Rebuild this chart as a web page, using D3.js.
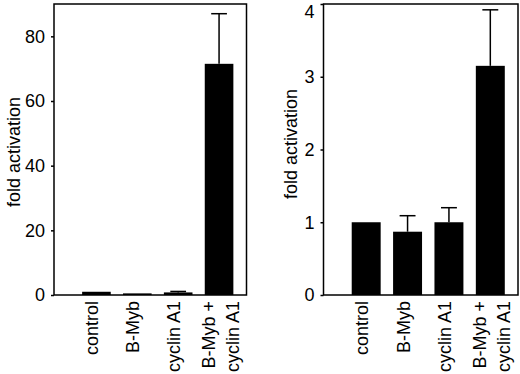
<!DOCTYPE html>
<html>
<head>
<meta charset="utf-8">
<script src="https://cdn.jsdelivr.net/npm/d3@7"></script>
<style>
  html, body { margin: 0; padding: 0; background: #fff; }
  svg { display: block; }
</style>
</head>
<body>
<div id="chart"></div>
<script>
// categories shared by both panels
const categories = ["control", "B-Myb", "cyclin A1", "B-Myb + cyclin A1"];
const categoryLines = [["control"], ["B-Myb"], ["cyclin A1"], ["B-Myb +", "cyclin A1"]];

// left panel
const leftValues = [1.0, 0.5, 0.8, 71.5];
const leftErrorTops = [null, null, 1.1, 87];
const leftTicks = [0, 20, 40, 60, 80];
const leftMax = 90;

// right panel
const rightValues = [1.0, 0.87, 1.0, 3.15];
const rightErrorTops = [null, 1.09, 1.2, 3.92];
const rightTicks = [0, 1, 2, 3, 4];
const rightMax = 4;

const width = 520;
const height = 374;
const fontFamily = "'Liberation Sans', Arial, Helvetica, sans-serif";

const svg = d3.select("#chart").append("svg")
    .attr("width", width)
    .attr("height", height);

function drawPanel(opts) {
    const { left, right, top, bottom, values, errorTops, ticks, max, labelX, labelY } = opts;

    const x = d3.scaleBand()
        .domain(categories)
        .range([left + 22, right - 7])
        .paddingInner(0.3)
        .paddingOuter(0.15);

    const y = d3.scaleLinear()
        .domain([0, max])
        .range([bottom, top]);

    const data = categories.map((c, i) => ({ cat: c, value: values[i], err: errorTops[i], lines: categoryLines[i] }));

    const g = svg.append("g");

    // bars
    g.selectAll(".bar")
        .data(data)
        .join("rect")
        .attr("class", "bar")
        .attr("x", d => x(d.cat))
        .attr("y", d => y(d.value))
        .attr("width", x.bandwidth())
        .attr("height", d => bottom - y(d.value))
        .attr("fill", "#000");

    // error bars (upper only, with cap)
    const errData = data.filter(d => d.err != null);
    const capW = x.bandwidth() * 0.55;
    g.selectAll(".err-line")
        .data(errData)
        .join("line")
        .attr("x1", d => x(d.cat) + x.bandwidth() / 2)
        .attr("x2", d => x(d.cat) + x.bandwidth() / 2)
        .attr("y1", d => y(d.value))
        .attr("y2", d => y(d.err))
        .attr("stroke", "#000")
        .attr("stroke-width", 1.5);
    g.selectAll(".err-cap")
        .data(errData)
        .join("line")
        .attr("x1", d => x(d.cat) + x.bandwidth() / 2 - capW / 2)
        .attr("x2", d => x(d.cat) + x.bandwidth() / 2 + capW / 2)
        .attr("y1", d => y(d.err))
        .attr("y2", d => y(d.err))
        .attr("stroke", "#000")
        .attr("stroke-width", 1.5);

    // frame
    g.append("rect")
        .attr("x", left)
        .attr("y", top)
        .attr("width", right - left)
        .attr("height", bottom - top)
        .attr("fill", "none")
        .attr("stroke", "#000")
        .attr("stroke-width", 1.5);

    // y axis
    g.append("g")
        .attr("transform", `translate(${left}, 0)`)
        .call(d3.axisLeft(y).tickValues(ticks).tickFormat(d3.format("d")).tickSize(3).tickPadding(6).tickSizeOuter(0))
        .call(a => a.select(".domain").remove())
        .call(a => a.selectAll(".tick line").attr("stroke", "#000").attr("stroke-width", 1.5))
        .call(a => a.selectAll(".tick text")
            .style("font-family", fontFamily)
            .style("font-size", "18px")
            .attr("fill", "#000")
            // keep a label at the very top inside the picture
            .attr("dy", d => y(d) < top + 6 ? "0.75em" : "0.32em"));

    // y label
    g.append("text")
        .attr("transform", `translate(${labelX}, ${labelY}) rotate(-90)`)
        .attr("text-anchor", "middle")
        .style("font-family", fontFamily)
        .style("font-size", "18px")
        .attr("fill", "#000")
        .text("fold activation");

    // x category labels, rotated
    const labels = g.selectAll(".xlab")
        .data(data)
        .join("g")
        .attr("class", "xlab");
    labels.each(function (d) {
        const cx = x(d.cat) + x.bandwidth() / 2;
        const offs = d.lines.length === 1 ? [2] : [-4, 20];
        d3.select(this).selectAll("text")
            .data(d.lines)
            .join("text")
            .attr("transform", (t, i) => `translate(${cx + offs[i]}, ${bottom + 6}) rotate(-90)`)
            .attr("text-anchor", "end")
            .style("font-family", fontFamily)
            .style("font-size", "18px")
            .attr("fill", "#000")
            .text(t => t);
    });
}

drawPanel({
    left: 54, right: 246.5, top: 4, bottom: 295,
    values: leftValues, errorTops: leftErrorTops, ticks: leftTicks, max: leftMax,
    labelX: 20, labelY: 152
});

drawPanel({
    left: 323.5, right: 518, top: 4, bottom: 295,
    values: rightValues, errorTops: rightErrorTops, ticks: rightTicks, max: rightMax,
    labelX: 297, labelY: 144
});
</script>
</body>
</html>
